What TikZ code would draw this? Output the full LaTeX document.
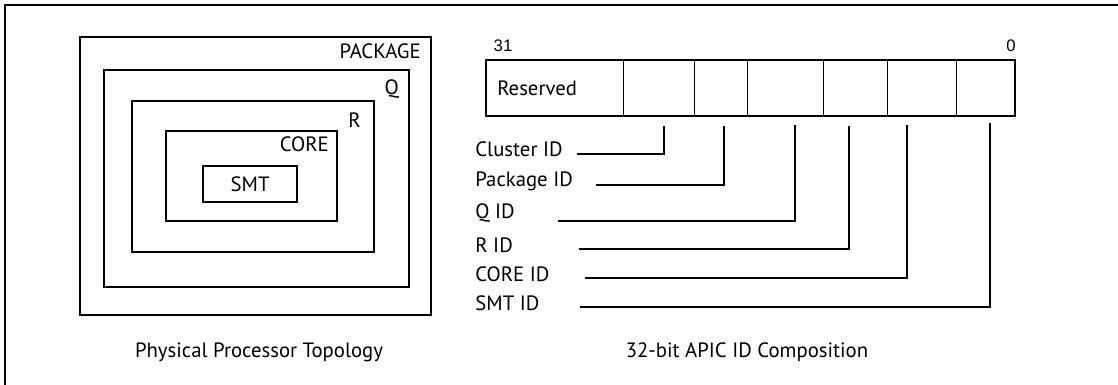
\documentclass[tikz,border=0pt]{standalone}
\usepackage{fontspec}
\setmainfont{PT Sans}
\newfontfamily\digitfont{Liberation Sans}
\usetikzlibrary{positioning}

\begin{document}
\begin{tikzpicture}[
    x=0.02cm, y=-0.02cm,
    level/.style={draw, rectangle, line width=1.2pt, inner sep=0pt, anchor=north west},
    tag/.style={inner sep=0pt, font=\fontsize{11.8}{13}\selectfont},
    regbox/.style={draw, rectangle, line width=1.2pt, inner sep=0pt, anchor=north west, minimum width=10.58cm, minimum height=1.12cm},
    divider/.style={line width=0.5pt},
    idlabel/.style={inner sep=0pt, anchor=west, font=\fontsize{11.8}{13}\selectfont},
    conn/.style={line width=1.2pt},
    bitno/.style={inner sep=0pt, font=\digitfont\fontsize{9.5}{10}\selectfont},
    frame/.style={line width=1.2pt}
]
\useasboundingbox (0,0) rectangle (1118,385);

% outer frame (only top and left edges show)
\draw[frame] (5,385) -- (5,5) -- (1118,5);

% nested topology boxes
\node[level, minimum width=7.02cm, minimum height=5.56cm] (pkg) at (79,36) {};
\node[level, minimum width=6.10cm, minimum height=4.34cm] (q) at (103,69) {};
\node[level, minimum width=4.84cm, minimum height=3.02cm] (r) at (131,100) {};
\node[level, minimum width=3.42cm, minimum height=1.80cm] (core) at (165,130) {};
\node[level, minimum width=1.88cm, minimum height=0.72cm] (smt) at (202,165) {};

\node[tag, below left=0.14cm and 0.22cm of pkg.north east] (pkgtag) {PACKAGE};
\node[tag, below left=0.20cm and 0.22cm of q.north east] (qtag) {Q};
\node[tag, below left=0.24cm and 0.28cm of r.north east] (rtag) {R};
\node[tag, below left=0.12cm and 0.18cm of core.north east] (coretag) {CORE};
\node[tag] (smttag) at (smt.center) {SMT};

\node[tag] (topo) at (259,352) {Physical Processor Topology};

% APIC ID register
\node[regbox] (reg) at (485,59) {};
\node[tag, anchor=west] (res) at (497,88) {Reserved};
\foreach \x in {623,694,747.5,823,887.5,956}
  \draw[divider] (\x,0 |- reg.north) -- (\x,0 |- reg.south);

\node[bitno] (msb) at (503,46) {31};
\node[bitno] (lsb) at (1011,46) {0};

% field labels and leaders
\node[idlabel] (lclu) at (475,149) {Cluster ID};
\node[idlabel] (lpkg) at (475,181) {Package ID};
\node[idlabel] (lq) at (475,213) {Q ID};
\node[idlabel] (lr) at (475,245) {R ID};
\node[idlabel] (lcore) at (475,274) {CORE ID};
\node[idlabel] (lsmt) at (475,303) {SMT ID};

\coordinate (sclu) at (577,154);
\coordinate (spkg) at (596,185);
\coordinate (sq) at (558,221);
\coordinate (sr) at (579,249);
\coordinate (score) at (585,278);
\coordinate (ssmt) at (580,307);

\coordinate (tclu) at (664,126);
\coordinate (tpkg) at (724,126);
\coordinate (tq) at (795,125);
\coordinate (tr) at (849,126);
\coordinate (tcore) at (907,125);
\coordinate (tsmt) at (990,123);

\draw[conn] (sclu) -| (tclu);
\draw[conn] (spkg) -| (tpkg);
\draw[conn] (sq) -| (tq);
\draw[conn] (sr) -| (tr);
\draw[conn] (score) -| (tcore);
\draw[conn] (ssmt) -| (tsmt);

\node[tag] (apic) at (747,352) {32-bit APIC ID Composition};

\end{tikzpicture}
\end{document}
